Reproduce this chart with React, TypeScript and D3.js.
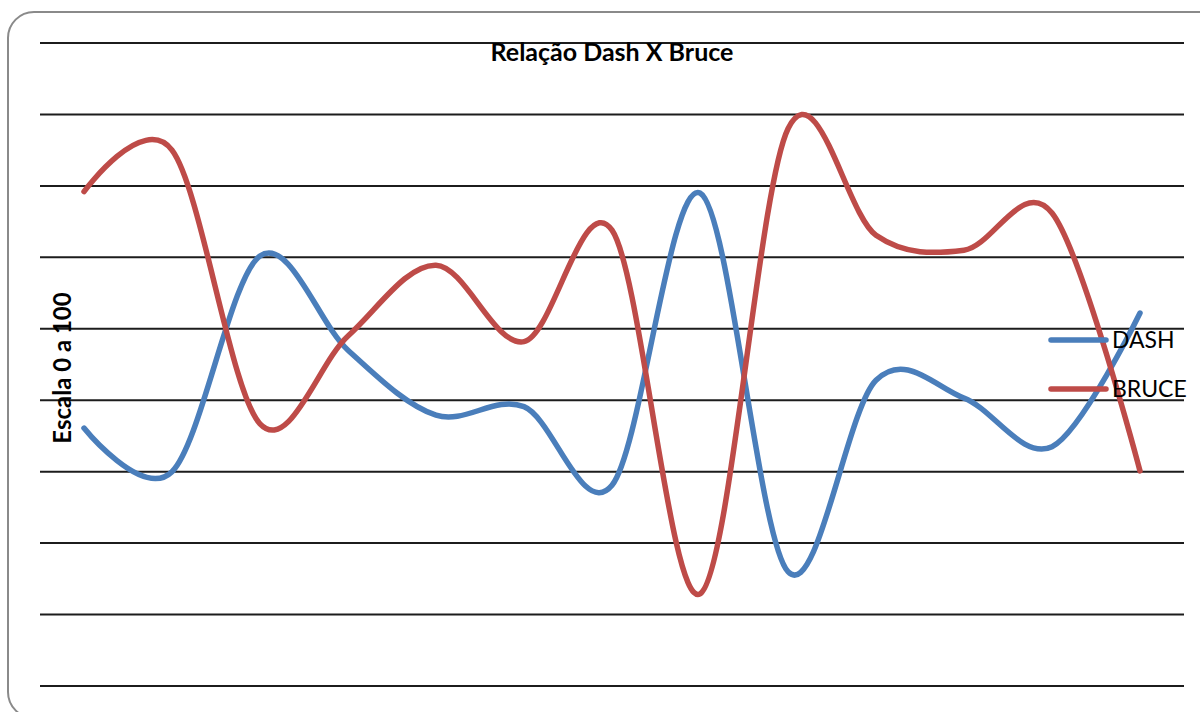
import React from "react";
import * as d3 from "d3";

const categories = ["1", "2", "3", "4", "5", "6", "7", "8", "9", "10", "11", "12", "13"];
const dashValues = [36.1, 30, 60.2, 47, 37.9, 39.1, 28.1, 69, 16, 42.8, 40.3, 33.5, 52.2];
const bruceValues = [69.2, 75, 36.7, 49, 58.9, 48.2, 63.8, 12.9, 78, 63.1, 61, 66.2, 30.1];
const yTicks = [0, 10, 20, 30, 40, 50, 60, 70, 80, 90];
const seriesNames = ["DASH", "BRUCE"];
const title = "Relação Dash X Bruce";
const yLabel = "Escala 0 a 100";

const W = 1200;
const H = 712;
const plot = { left: 40, right: 1184, top: 43, bottom: 686 };
const colors = ["#4A7EBB", "#BE4B48"];
const font = "Lato, 'Open Sans', sans-serif";

export default function App() {
  const x = d3
    .scalePoint<string>()
    .domain(categories)
    .range([plot.left, plot.right])
    .padding(0.5);
  const y = d3.scaleLinear().domain([0, 90]).range([plot.bottom, plot.top]);
  const line = d3
    .line<number>()
    .x((_, i) => x(categories[i]) as number)
    .y((d) => y(d))
    .curve(d3.curveCardinal.tension(0));
  const series = [dashValues, bruceValues];
  const legendY = [340, 389];

  return (
    <svg
      width={W}
      height={H}
      style={{ position: "absolute", left: 0, top: 0, background: "#fff" }}
    >
      <rect x={8} y={12} width={1230} height={706} rx={26} fill="#fff" stroke="#8a8a8a" strokeWidth={2} />
      {yTicks.map((t) => (
        <line key={t} x1={plot.left} x2={plot.right} y1={y(t)} y2={y(t)} stroke="#1c1c1c" strokeWidth={2} />
      ))}
      <text x={(plot.left + plot.right) / 2} y={61} textAnchor="middle" fontFamily={font} fontWeight="bold" fontSize={25} fill="#000">
        {title}
      </text>
      <text
        transform={`translate(71, 368) rotate(-90)`}
        textAnchor="middle"
        fontFamily={font}
        fontWeight="bold"
        fontSize={24}
        fill="#000"
      >
        {yLabel}
      </text>
      {series.map((s, i) => (
        <path key={i} d={line(s) || ""} fill="none" stroke={colors[i]} strokeWidth={5.5} strokeLinecap="round" strokeLinejoin="round" />
      ))}
      {seriesNames.map((n, i) => (
        <g key={n}>
          <line x1={1051} x2={1106} y1={legendY[i]} y2={legendY[i]} stroke={colors[i]} strokeWidth={5.5} strokeLinecap="round" />
          <text x={1112} y={legendY[i] + 8} fontFamily={font} fontSize={23} fill="#000">
            {n}
          </text>
        </g>
      ))}
    </svg>
  );
}
